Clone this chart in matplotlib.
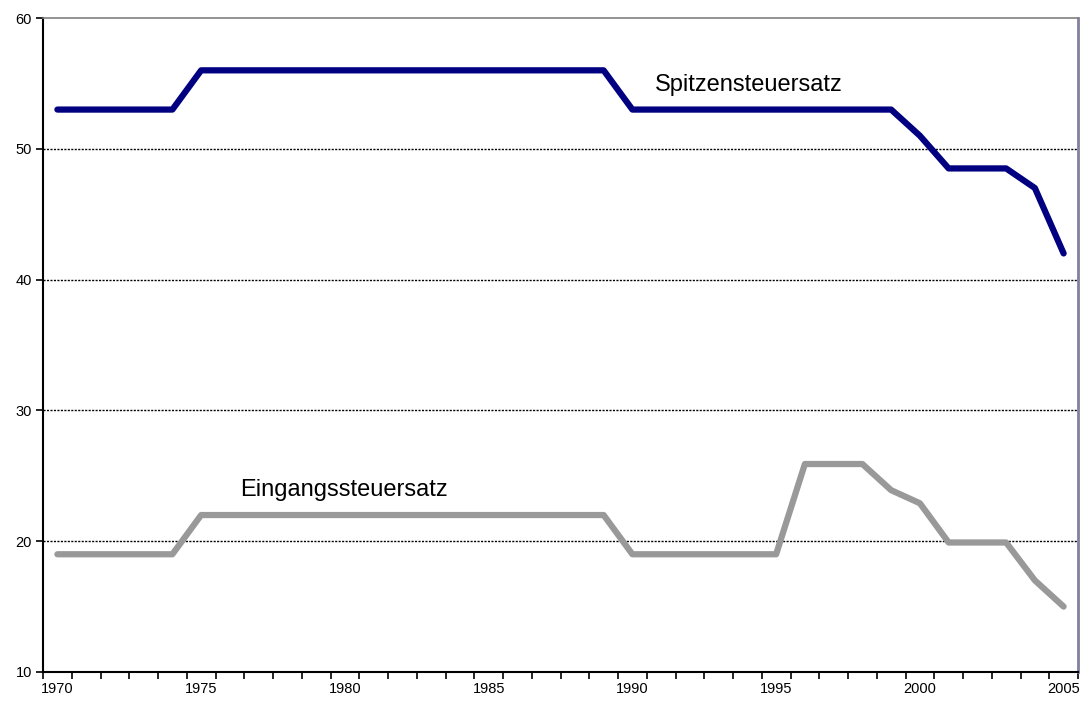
import numpy as np
import matplotlib
matplotlib.use('Agg')
import matplotlib.pyplot as plt

plt.rcParams['font.family'] = ['Liberation Sans', 'DejaVu Sans']

# Jahre 1970 - 2005
years = list(range(1970, 2006))

spitzensteuersatz = [53, 53, 53, 53, 53,
                     56, 56, 56, 56, 56, 56, 56, 56, 56, 56, 56, 56, 56, 56, 56,
                     53, 53, 53, 53, 53, 53, 53, 53, 53, 53,
                     51, 48.5, 48.5, 48.5, 47, 42]

eingangssteuersatz = [19, 19, 19, 19, 19,
                      22, 22, 22, 22, 22, 22, 22, 22, 22, 22, 22, 22, 22, 22, 22,
                      19, 19, 19, 19, 19, 19,
                      25.9, 25.9, 25.9, 23.9, 22.9, 19.9, 19.9, 19.9, 17, 15]

label_years = [1970, 1975, 1980, 1985, 1990, 1995, 2000, 2005]
y_ticks = [10, 20, 30, 40, 50, 60]

fig = plt.figure(figsize=(10.89, 7.01), dpi=100)
ax = fig.add_axes([0.0395, 0.0414, 0.9504, 0.9329])

x = np.arange(len(years))
ax.plot(x, spitzensteuersatz, color='#000080', lw=4.5, solid_capstyle='round', zorder=3)
ax.plot(x, eingangssteuersatz, color='#999999', lw=4.5, solid_capstyle='round', zorder=3)

ax.set_xlim(-0.5, len(years) - 0.5)
ax.set_ylim(10, 60)

# gridlines
for v in y_ticks[1:-1]:
    ax.axhline(v, color='black', lw=1, ls=(0, (1.5, 1)), zorder=1)

ax.set_yticks(y_ticks)
ax.set_yticklabels([str(v) for v in y_ticks], fontsize=10.5)
ax.set_xticks(np.arange(len(years) + 1) - 0.5)
ax.set_xticklabels([])
ax.set_xticks([years.index(y) for y in label_years], minor=True)
ax.set_xticklabels([str(y) for y in label_years], minor=True, fontsize=10.5)
ax.tick_params(axis='x', which='minor', length=0, pad=7)
ax.tick_params(axis='x', which='major', length=5, width=1.2, direction='out')
ax.tick_params(axis='y', length=5, width=1.2, direction='out', pad=3)

ax.spines['left'].set_linewidth(1.5)
ax.spines['bottom'].set_linewidth(1.5)
ax.spines['top'].set_color('#808080')
ax.spines['top'].set_linestyle((0, (1.5, 1)))
ax.spines['top'].set_linewidth(1.2)
ax.spines['right'].set_color('#8080a0')
ax.spines['right'].set_linewidth(2)

ax.text(20.8, 54.9, 'Spitzensteuersatz', fontsize=17, va='center', ha='left')
ax.text(6.35, 23.9, 'Eingangssteuersatz', fontsize=17, va='center', ha='left')

fig.savefig('out.png', dpi=100)
